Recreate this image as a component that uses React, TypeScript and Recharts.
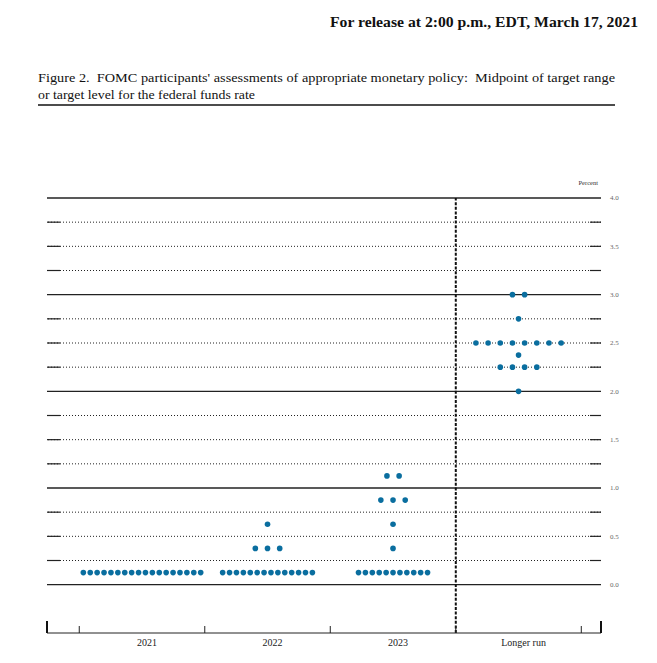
import React from "react";
import {
  ScatterChart,
  Scatter,
  XAxis,
  YAxis,
  ReferenceLine,
} from "recharts";

// ---- Data ----
const categories = ["2021", "2022", "2023", "Longer run"];

// midpoint rate (percent) and number of participants at that rate
const proj2021 = [{ rate: 0.125, count: 18 }];
const proj2022 = [
  { rate: 0.125, count: 14 },
  { rate: 0.375, count: 3 },
  { rate: 0.625, count: 1 },
];
const proj2023 = [
  { rate: 0.125, count: 11 },
  { rate: 0.375, count: 1 },
  { rate: 0.625, count: 1 },
  { rate: 0.875, count: 3 },
  { rate: 1.125, count: 2 },
];
const projLonger = [
  { rate: 2.0, count: 1 },
  { rate: 2.25, count: 4 },
  { rate: 2.375, count: 1 },
  { rate: 2.5, count: 8 },
  { rate: 2.75, count: 1 },
  { rate: 3.0, count: 2 },
];

const rateLabelTicks = [0, 0.5, 1, 1.5, 2, 2.5, 3, 3.5, 4];
const gridLevels = [
  0, 0.25, 0.5, 0.75, 1, 1.25, 1.5, 1.75, 2, 2.25, 2.5, 2.75, 3, 3.25, 3.5,
  3.75, 4,
];

// ---- Layout constants ----
const W = 657;
const H = 663;
const X_MIN = -0.757;
const X_MAX = 3.657;
const Y_MIN = -0.5;
const Y_MAX = 4;
const DOT = "#0a6e9f";
const FONT = "Liberation Serif, Times New Roman, Times, DejaVu Serif, serif";

const groups = [proj2021, proj2022, proj2023, projLonger];
const points = groups.flatMap((g, ci) =>
  g.flatMap(({ rate, count }) => {
    const step = count > 10 ? 0.055 : 0.097;
    return Array.from({ length: count }, (_, i) => ({
      x: ci + (i - (count - 1) / 2) * step,
      y: rate,
    }));
  })
);

const boundaryTicks = [-0.5, 0.5, 1.5, 2.5, 3.5];
const xTicks = [X_MIN, ...boundaryTicks, 0, 1, 2, 3, X_MAX].sort(
  (a, b) => a - b
);

const XTick = (props: any) => {
  const { x, y, payload } = props;
  const v = payload.value;
  if (v === X_MIN || v === X_MAX) {
    return <line x1={x} x2={x} y1={y} y2={y - 12} stroke="#111" strokeWidth={2} />;
  }
  if (Number.isInteger(v)) {
    return (
      <text
        x={x + 5}
        y={y + 12.5}
        textAnchor="middle"
        fontFamily={FONT}
        fontSize={10}
        fill="#222"
      >
        {categories[v]}
      </text>
    );
  }
  return <line x1={x} x2={x} y1={y} y2={y - 7} stroke="#222" strokeWidth={1} />;
};

const Dot = (props: any) => (
  <circle cx={props.cx} cy={props.cy} r={2.8} fill={DOT} />
);

export default function App() {
  return (
    <div
      style={{
        position: "absolute",
        left: 0,
        top: 0,
        width: W,
        height: H,
        background: "#fff",
      }}
    >
      <ScatterChart
        width={W}
        height={H}
        margin={{ top: 198, right: 16, bottom: 5, left: 47 }}
      >
        <XAxis
          type="number"
          dataKey="x"
          domain={[X_MIN, X_MAX]}
          ticks={xTicks}
          interval={0}
          allowDataOverflow
          tick={<XTick />}
          tickLine={false}
          tickSize={0}
          tickMargin={0}
          height={25}
          axisLine={{ stroke: "#222", strokeWidth: 1 }}
        />
        <YAxis
          type="number"
          dataKey="y"
          orientation="right"
          domain={[Y_MIN, Y_MAX]}
          ticks={rateLabelTicks}
          interval={0}
          allowDataOverflow
          width={40}
          axisLine={false}
          tickLine={false}
          tickSize={0}
          tickMargin={9}
          tickFormatter={(v: number) => v.toFixed(1)}
          tick={{ fontFamily: FONT, fontSize: 7, fill: "#666" }}
        />
        {gridLevels.map((v) =>
          Number.isInteger(v) ? (
            <ReferenceLine
              key={"g" + v}
              y={v}
              stroke="#222"
              strokeWidth={1.4}
            />
          ) : (
            <ReferenceLine
              key={"g" + v}
              y={v}
              stroke="#222"
              strokeWidth={1}
              strokeDasharray="1 2"
            />
          )
        )}
        {gridLevels
          .filter((v) => !Number.isInteger(v))
          .map((v) => (
            <ReferenceLine
              key={"l" + v}
              segment={[
                { x: X_MIN, y: v },
                { x: X_MIN + 0.105, y: v },
              ]}
              stroke="#222"
              strokeWidth={1.2}
            />
          ))}
        {gridLevels
          .filter((v) => !Number.isInteger(v))
          .map((v) => (
            <ReferenceLine
              key={"r" + v}
              segment={[
                { x: X_MAX - 0.088, y: v },
                { x: X_MAX, y: v },
              ]}
              stroke="#222"
              strokeWidth={1.2}
            />
          ))}
        <ReferenceLine
          x={2.5}
          stroke="#111"
          strokeWidth={2}
          strokeDasharray="3 1.6"
        />
        <Scatter
          data={points}
          shape={<Dot />}
          isAnimationActive={false}
        />
      </ScatterChart>
      <svg
        width={W}
        height={H}
        style={{ position: "absolute", left: 0, top: 0, pointerEvents: "none" }}
      >
        <text
          x={330}
          y={27}
          fontFamily={FONT}
          fontWeight="bold"
          fontSize={14}
          fill="#111"
          textLength={308}
          lengthAdjust="spacingAndGlyphs"
        >
          For release at 2:00 p.m., EDT, March 17, 2021
        </text>
        <text
          x={38}
          y={82}
          fontFamily={FONT}
          fontSize={13}
          fill="#111"
          textLength={577}
          lengthAdjust="spacingAndGlyphs"
          style={{ whiteSpace: "pre" }}
        >
          {"Figure 2.  FOMC participants' assessments of appropriate monetary policy:  Midpoint of target range"}
        </text>
        <text
          x={38}
          y={99}
          fontFamily={FONT}
          fontSize={13}
          fill="#111"
          textLength={217}
          lengthAdjust="spacingAndGlyphs"
        >
          or target level for the federal funds rate
        </text>
        <line x1={38} x2={615} y1={105} y2={105} stroke="#111" strokeWidth={1.5} />
        <text
          x={598}
          y={185}
          textAnchor="end"
          fontFamily={FONT}
          fontSize={6.5}
          fill="#333"
        >
          Percent
        </text>
      </svg>
    </div>
  );
}
